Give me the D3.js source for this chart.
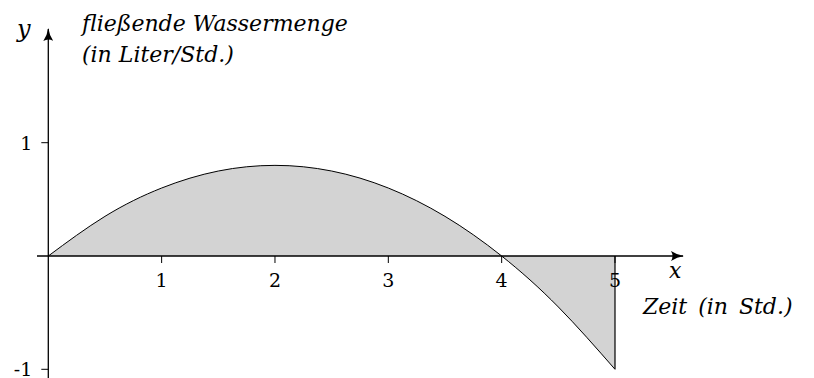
<!DOCTYPE html>
<html>
<head>
<meta charset="utf-8">
<script src="https://cdn.jsdelivr.net/npm/d3@7"></script>
<style>
  body { margin: 0; background: #fff; }
  svg { display: block; }
  text { font-family: "DejaVu Serif", "Liberation Serif", serif; fill: #000; }
  .lbl { font-style: italic; }
</style>
</head>
<body>
<svg></svg>
<script>
// values (x in hours, y in litres per hour)
let timeValues = [0, 0.5, 1, 1.5, 2, 2.5, 3, 3.5, 4, 4.5, 5];
let flowValues = [0, 0.35, 0.6, 0.75, 0.8, 0.75, 0.6, 0.35, 0, -0.45, -1];
let xTicks = [1, 2, 3, 4, 5];
let yTicks = [1, -1];

let width = 814;
let height = 378;

let svg = d3.select("svg")
  .attr("width", width)
  .attr("height", height);

let points = timeValues.map((t, i) => ({ x: t, y: flowValues[i] }));

// 1 unit = ~113.3 px in both directions
let xScale = d3.scaleLinear().domain([0, 5]).range([48.3, 615]);
let yScale = d3.scaleLinear().domain([-1, 1]).range([369.3, 142.7]);

// shaded area between curve and x-axis
let area = d3.area()
  .x(d => xScale(d.x))
  .y0(yScale(0))
  .y1(d => yScale(d.y))
  .curve(d3.curveNatural);

svg.append("path")
  .datum(points)
  .attr("d", area)
  .attr("fill", "#d3d3d3");

let line = d3.line()
  .x(d => xScale(d.x))
  .y(d => yScale(d.y))
  .curve(d3.curveNatural);

svg.append("path")
  .datum(points)
  .attr("d", line)
  .attr("fill", "none")
  .attr("stroke", "#000")
  .attr("stroke-width", 1);

// vertical edge at x = 5
let last = points[points.length - 1];
svg.append("line")
  .attr("x1", xScale(last.x)).attr("x2", xScale(last.x))
  .attr("y1", yScale(0)).attr("y2", yScale(last.y))
  .attr("stroke", "#000")
  .attr("stroke-width", 1.2);

// arrow head
svg.append("defs").append("marker")
  .attr("id", "arrow")
  .attr("viewBox", "0 0 13 10")
  .attr("refX", 12).attr("refY", 5)
  .attr("markerWidth", 13).attr("markerHeight", 10)
  .attr("markerUnits", "userSpaceOnUse")
  .attr("orient", "auto")
  .append("path")
  .attr("d", "M0,0 Q6,4 13,5 Q6,6 0,10 Q3,5 0,0 Z")
  .attr("fill", "#000");

// x axis
svg.append("line")
  .attr("x1", 37).attr("x2", 683)
  .attr("y1", yScale(0)).attr("y2", yScale(0))
  .attr("stroke", "#000").attr("stroke-width", 1.3)
  .attr("marker-end", "url(#arrow)");

// y axis
svg.append("line")
  .attr("x1", xScale(0)).attr("x2", xScale(0))
  .attr("y1", height).attr("y2", 29)
  .attr("stroke", "#000").attr("stroke-width", 1.3)
  .attr("marker-end", "url(#arrow)");

// x ticks
let xt = svg.append("g").selectAll("g")
  .data(xTicks).enter().append("g")
  .attr("transform", d => "translate(" + xScale(d) + "," + yScale(0) + ")");
xt.append("line").attr("y1", 0).attr("y2", 7).attr("stroke", "#000").attr("stroke-width", 1);
xt.append("text")
  .attr("y", 31)
  .attr("text-anchor", "middle")
  .attr("font-size", 19)
  .text(d => d);

// y ticks
let yt = svg.append("g").selectAll("g")
  .data(yTicks).enter().append("g")
  .attr("transform", d => "translate(" + xScale(0) + "," + yScale(d) + ")");
yt.append("line").attr("x1", -7).attr("x2", 0).attr("stroke", "#000").attr("stroke-width", 1);
yt.append("text")
  .attr("x", -16)
  .attr("y", 7)
  .attr("text-anchor", "end")
  .attr("font-size", 19)
  .text(d => d);

// axis labels
svg.append("text").attr("class", "lbl")
  .attr("x", 17).attr("y", 37).attr("font-size", 24).text("y");
svg.append("text").attr("class", "lbl")
  .attr("x", 669).attr("y", 278).attr("font-size", 22).text("x");
svg.append("text").attr("class", "lbl")
  .attr("x", 82).attr("y", 31).attr("font-size", 22).text("fließende Wassermenge");
svg.append("text").attr("class", "lbl")
  .attr("x", 82).attr("y", 62).attr("font-size", 22).text("(in Liter/Std.)");
svg.append("text").attr("class", "lbl")
  .attr("x", 643).attr("y", 314).attr("font-size", 22)
  .attr("word-spacing", 4).text("Zeit (in Std.)");
</script>
</body>
</html>
